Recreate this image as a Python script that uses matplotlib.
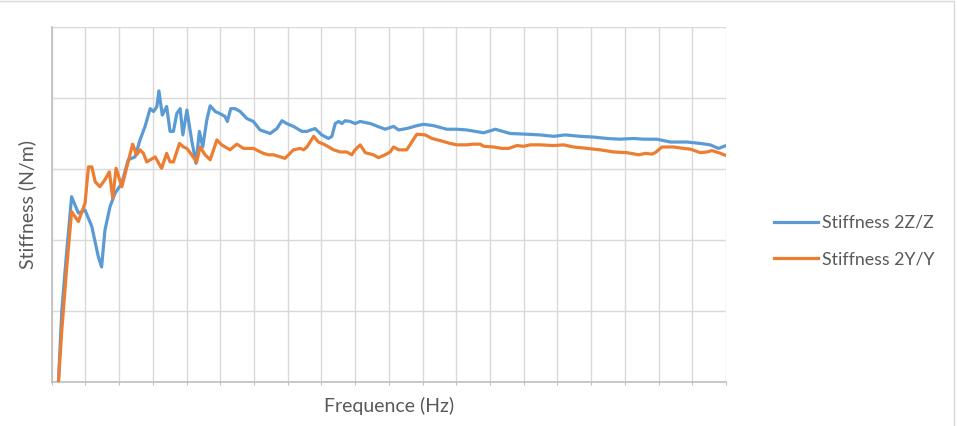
import matplotlib
matplotlib.use('Agg')
import matplotlib.pyplot as plt
import matplotlib.ticker as ticker
from matplotlib.patches import Rectangle

# frequency axis in grid units (20 category blocks), stiffness in grid units (5 bands)
freq_z = [0.20, 0.30, 0.44, 0.59, 0.79, 0.99, 1.19, 1.38, 1.48, 1.58, 1.73, 1.88, 2.08,
          2.27, 2.47, 2.62, 2.77, 2.92, 3.02, 3.12, 3.18, 3.28, 3.41, 3.51, 3.61, 3.71,
          3.81, 3.89, 4.01, 4.15, 4.28, 4.38, 4.48, 4.60, 4.70, 4.85, 4.99, 5.14, 5.21,
          5.31, 5.44, 5.59, 5.79, 5.98, 6.18, 6.48, 6.68, 6.83, 6.97, 7.17, 7.42, 7.57,
          7.81, 8.01, 8.21, 8.31, 8.41, 8.51, 8.61, 8.70, 8.85, 9.00, 9.15, 9.45, 9.89,
          10.14, 10.29, 10.53, 10.83, 11.03, 11.33, 11.72, 12.02, 12.31, 12.81, 13.16,
          13.60, 14.09, 14.49, 14.89, 15.23, 15.68, 16.07, 16.47, 16.86, 17.26, 17.56,
          17.95, 18.35, 18.84, 19.24, 19.53, 19.78, 20.0]
stiff_z = [0.0, 1.01, 1.81, 2.61, 2.38, 2.42, 2.19, 1.77, 1.62, 2.14, 2.47, 2.66, 2.80,
           3.13, 3.17, 3.41, 3.60, 3.85, 3.81, 3.88, 4.10, 3.76, 3.88, 3.53, 3.53, 3.78,
           3.85, 3.48, 3.83, 3.41, 3.08, 3.53, 3.31, 3.69, 3.89, 3.81, 3.78, 3.74, 3.67,
           3.85, 3.85, 3.81, 3.71, 3.67, 3.55, 3.50, 3.57, 3.68, 3.64, 3.60, 3.53, 3.53,
           3.57, 3.48, 3.43, 3.46, 3.64, 3.67, 3.64, 3.68, 3.67, 3.64, 3.67, 3.64, 3.56,
           3.60, 3.55, 3.57, 3.61, 3.63, 3.61, 3.56, 3.56, 3.55, 3.51, 3.56,
           3.50, 3.49, 3.48, 3.46, 3.48, 3.46, 3.45, 3.43, 3.42, 3.43, 3.42,
           3.42, 3.38, 3.38, 3.36, 3.34, 3.29, 3.33]

freq_y = [0.20, 0.30, 0.44, 0.59, 0.79, 0.99, 1.09, 1.19, 1.29, 1.43, 1.58, 1.71, 1.81,
          1.91, 2.08, 2.23, 2.40, 2.52, 2.62, 2.72, 2.82, 3.07, 3.26, 3.41, 3.51, 3.61,
          3.79, 3.91, 4.01, 4.15, 4.30, 4.40, 4.55, 4.70, 4.90, 5.04, 5.29, 5.49, 5.69,
          5.98, 6.28, 6.43, 6.58, 6.92, 7.17, 7.37, 7.47, 7.57, 7.77, 7.91, 8.11, 8.36,
          8.56, 8.75, 8.90, 9.00, 9.15, 9.30, 9.54, 9.69, 9.89, 10.04, 10.14, 10.29,
          10.53, 10.68, 10.83, 11.08, 11.28, 11.52, 11.82, 12.02, 12.31, 12.51, 12.71,
          12.81, 13.11, 13.35, 13.55, 13.80, 14.00, 14.19, 14.49, 14.89, 15.18, 15.48,
          15.88, 16.27, 16.67, 17.06, 17.41, 17.61, 17.80, 17.90, 18.10, 18.45, 18.74,
          18.94, 19.24, 19.44, 19.58, 19.78, 20.0]
stiff_y = [0.0, 0.73, 1.58, 2.40, 2.26, 2.52, 3.03, 3.03, 2.82, 2.75, 2.85, 2.96, 2.59,
           3.01, 2.75, 3.03, 3.35, 3.20, 3.27, 3.22, 3.10, 3.17, 3.01, 3.22, 3.10, 3.10,
           3.36, 3.31, 3.29, 3.20, 3.10, 3.31, 3.20, 3.13, 3.41, 3.34, 3.27, 3.35, 3.29,
           3.29, 3.22, 3.20, 3.20, 3.15, 3.27, 3.29, 3.27, 3.31, 3.46, 3.38, 3.34, 3.27,
           3.24, 3.24, 3.20, 3.27, 3.34, 3.23, 3.20, 3.16, 3.20, 3.24, 3.31, 3.27,
           3.27, 3.38, 3.49, 3.48, 3.43, 3.40, 3.36, 3.34, 3.34, 3.35, 3.35,
           3.32, 3.31, 3.29, 3.29, 3.33, 3.32, 3.34, 3.34, 3.33, 3.34, 3.31,
           3.29, 3.27, 3.24, 3.23, 3.20, 3.22, 3.21, 3.23, 3.31, 3.31, 3.29,
           3.28, 3.23, 3.24, 3.26, 3.23, 3.19]

labels = ['Stiffness 2Z/Z', 'Stiffness 2Y/Y']
colors = ['#5B9BD5', '#ED7D31']
text_color = '#595959'

plt.rcParams['font.family'] = ['Lato', 'DejaVu Sans']

fig = plt.figure(figsize=(9.57, 4.26), dpi=100)
ax = fig.add_axes([51.7 / 957, 1 - 382 / 426, (726 - 51.7) / 957, (382 - 27) / 426])

ax.plot(freq_z, stiff_z, color=colors[0], lw=2.3, label=labels[0], solid_joinstyle='round', zorder=3)
ax.plot(freq_y, stiff_y, color=colors[1], lw=2.3, label=labels[1], solid_joinstyle='round', zorder=4)

ax.set_xlim(0, 20)
ax.set_ylim(0, 5)
ax.xaxis.set_major_locator(ticker.MultipleLocator(1))
ax.yaxis.set_major_locator(ticker.MultipleLocator(1))
ax.grid(True, color='#d9d9d9', lw=1.0)
ax.set_axisbelow(True)
ax.tick_params(axis='x', length=2.5, width=0.8, color='#bfbfbf', labelbottom=False)
ax.tick_params(axis='y', length=0, labelleft=False)
for side in ['top', 'right']:
    ax.spines[side].set_visible(False)
for side in ['left', 'bottom']:
    ax.spines[side].set_color('#bfbfbf')
    ax.spines[side].set_linewidth(1.2)

ax.set_xlabel('Frequence (Hz)', fontsize=14, color=text_color, labelpad=8)
ax.set_ylabel('Stiffness (N/m)', fontsize=14, color=text_color, labelpad=11)

fig.legend(loc='center left', bbox_to_anchor=(758 / 957, 1 - 241 / 426), frameon=False,
           fontsize=12.8, handlelength=2.5, handletextpad=0.22, labelspacing=1.13,
           labelcolor=text_color)

# chart border
fig.patches.append(Rectangle((-0.01, -0.05), 954 / 957 + 0.01, 1.05 - 1 / 426,
                             transform=fig.transFigure, fill=False, edgecolor='#d9d9d9',
                             lw=1.0))

fig.savefig('out.png', dpi=100)
